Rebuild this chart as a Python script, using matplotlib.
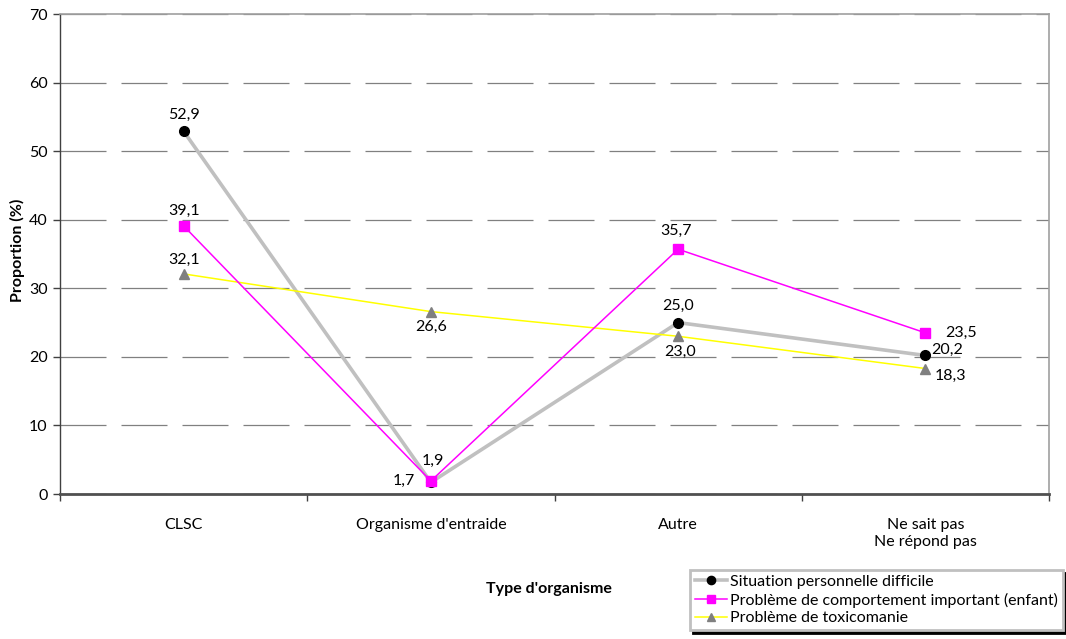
import matplotlib
matplotlib.use("Agg")
import matplotlib.pyplot as plt

plt.rcParams['font.family'] = ['Lato', 'DejaVu Sans']

categories = ["CLSC", "Organisme d'entraide", "Autre", "Ne sait pas\nNe répond pas"]
situation = [52.9, 1.7, 25.0, 20.2]
comportement = [39.1, 1.9, 35.7, 23.5]
toxicomanie = [32.1, 26.6, 23.0, 18.3]
series_names = ["Situation personnelle difficile",
                "Problème de comportement important (enfant)",
                "Problème de toxicomanie"]

W, H = 1066, 639
fig = plt.figure(figsize=(W / 100, H / 100), dpi=100)
ax = fig.add_axes([60 / W, 1 - 494 / H, (1049 - 60) / W, (494 - 14) / H])

x = list(range(len(categories)))

l1, = ax.plot(x, situation, color="#C0C0C0", lw=2.6, marker="o", ms=7,
              mfc="black", mec="black", zorder=3)
l2, = ax.plot(x, comportement, color="#FF00FF", lw=1.1, marker="s", ms=7.5,
              mfc="#FF00FF", mec="#FF00FF", zorder=4)
l3, = ax.plot(x, toxicomanie, color="#FFFF00", lw=1.1, marker="^", ms=7.5,
              mfc="#808080", mec="#808080", zorder=3)

# label offsets in pixels (dx, dy), converted to points
offsets = {
    0: [(0, 16), (-27, 1), (0, 17), (22, 6)],
    1: [(0, 15), (2, 20), (-2, 18), (36, 0)],
    2: [(0, 14), (0, -15), (2, -16), (25, -7)],
}
for si, vals in enumerate([situation, comportement, toxicomanie]):
    for i, v in enumerate(vals):
        dx, dy = offsets[si][i]
        ax.annotate(f"{v:.1f}".replace(".", ","), (i, v),
                    xytext=(dx * 0.72, dy * 0.72), textcoords="offset points",
                    ha="center", va="center", fontsize=11.5, color="black",
                    zorder=5)

ax.set_xlim(-0.5, len(categories) - 0.5)
ax.set_ylim(0, 70)
ax.set_yticks(range(0, 71, 10))
ax.set_xticks(x)
ax.set_xticklabels(categories, fontsize=11.5, linespacing=1.3)
ax.set_xticks([i + 0.5 for i in range(-1, len(categories))], minor=True)
ax.tick_params(axis="x", which="major", length=0, pad=17)
ax.tick_params(axis="x", which="minor", length=5, width=1, color="#404040",
               direction="out")
ax.tick_params(axis="y", labelsize=11.5, length=5, width=1, color="#404040",
               direction="out", pad=4)

ax.yaxis.grid(True, color="#808080", lw=0.9, linestyle=(0, (46 * 0.72 / 0.9, 15 * 0.72 / 0.9)))
ax.set_axisbelow(True)

for side in ["top", "right"]:
    ax.spines[side].set_color("#A0A0A0")
    ax.spines[side].set_linewidth(1.2)
ax.spines["left"].set_color("#404040")
ax.spines["left"].set_linewidth(1)
ax.spines["bottom"].set_color("#505050")
ax.spines["bottom"].set_linewidth(2)

fig.text(17 / W, 1 - 250 / H, "Proportion (%)", rotation=90, ha="center",
         va="center", fontsize=11.5, fontweight="bold")
fig.text(549 / W, 1 - 589 / H, "Type d'organisme", ha="center", va="center",
         fontsize=11.5, fontweight="bold")

leg = fig.legend([l1, l2, l3], series_names, loc="upper left",
                 bbox_to_anchor=(690 / W, 1 - 570 / H), fontsize=11.5,
                 frameon=True, fancybox=False,
                 shadow={"color": "black", "alpha": 1},
                 handlelength=2.0, handletextpad=0.2, labelspacing=0.22,
                 borderpad=0.3, borderaxespad=0, markerscale=0.85)
leg.get_frame().set_edgecolor("#C0C0C0")
leg.get_frame().set_linewidth(2)

fig.savefig("out.png", dpi=100)
